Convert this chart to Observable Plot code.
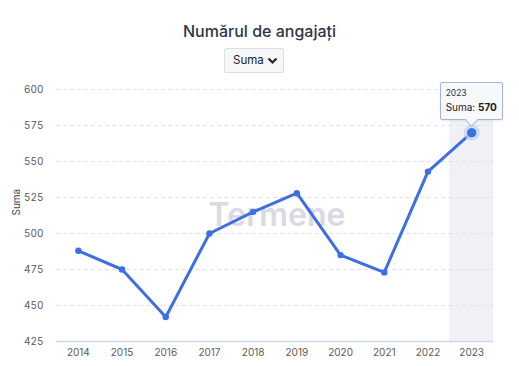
<!DOCTYPE html>
<html><head><meta charset="utf-8">
<script src="https://cdn.jsdelivr.net/npm/d3@7"></script>
<script src="https://cdn.jsdelivr.net/npm/@observablehq/plot@0.6"></script>
<style>
body{margin:0;background:#fff;font-family:Inter,"Noto Sans",sans-serif;}
#wrap{position:relative;width:519px;height:366px;overflow:hidden;}
#title{position:absolute;top:20px;left:0;width:519px;text-align:center;font-size:16px;font-weight:500;color:#2d3648;line-height:22px;}
#sel{position:absolute;left:224px;top:48px;width:58px;height:23px;border:1px solid #dadee6;background:#f6f7f9;border-radius:2px;font-size:11.5px;color:#222;line-height:23px;box-sizing:content-box;}
#sel span{position:absolute;left:8px;}
#sel svg{position:absolute;right:5px;top:8px;}
#chart{position:absolute;top:80px;left:0;}
#tip{position:absolute;background:#f6f8fc;border:1px solid #a3b4d6;border-radius:2px;padding:4px 5px 5px 5px;font-size:10px;color:#222;white-space:nowrap;box-shadow:0 1px 2px rgba(0,0,0,0.08);box-sizing:border-box;}
#tip .yr{font-size:8.5px;color:#333;line-height:13px;}
#tip .v{line-height:14px;}
#tipArrow{position:absolute;width:8px;height:8px;background:#f6f8fc;border-right:1px solid #a3b4d6;border-bottom:1px solid #a3b4d6;transform:rotate(45deg);}
</style></head>
<body>
<div id="wrap">
  <div id="title">Numărul de angajați</div>
  <div id="sel"><span>Suma</span><svg width="11" height="8" viewBox="0 0 11 8"><path d="M1.5 1.5 L5.5 5.5 L9.5 1.5" fill="none" stroke="#222" stroke-width="2.2"/></svg></div>
  <div id="chart"></div>
</div>
<script>
const years = ["2014","2015","2016","2017","2018","2019","2020","2021","2022","2023"];
const values = [488, 475, 442, 500, 515, 528, 485, 473, 543, 570];
const yTicks = [425, 450, 475, 500, 525, 550, 575, 600];
const highlightYear = ["2023"];
const seriesName = "Suma";

const data = years.map((y, i) => ({year: y, value: values[i]}));
const hl = data.filter(d => highlightYear.includes(d.year));
const blue = "#3b6fe3";

const chart = Plot.plot({
  width: 519,
  height: 286,
  marginTop: 9,
  marginBottom: 25,
  marginLeft: 56,
  marginRight: 26,
  style: {fontFamily: "Inter, 'Noto Sans', sans-serif", fontSize: "10px", color: "#5a5a5a", background: "transparent"},
  x: {type: "band", domain: years, padding: 0, round: false, label: null, tickSize: 0, tickPadding: 7},
  y: {domain: [425, 600], ticks: yTicks, label: null, tickSize: 0, tickPadding: 13},
  marks: [
    Plot.barY(hl, {x: "year", y1: 425, y2: 600, fill: "#eff1f6"}),
    Plot.ruleY(yTicks.filter(t => t > 425), {stroke: "#dfe2e8", strokeDasharray: "4,3"}),
    Plot.ruleY([425], {stroke: "#cfd7e6", strokeWidth: 1.5}),
    Plot.text(["Termene"], {frameAnchor: "middle", text: d => d, fontSize: 32, fontWeight: 600, fill: "#dadae3", dx: 2}),
    Plot.text([seriesName], {frameAnchor: "left", text: d => d, dx: -40, rotate: -90, fontSize: 10, fill: "#444"}),
    Plot.line(data, {x: "year", y: "value", stroke: blue, strokeWidth: 3, strokeLinejoin: "round"}),
    Plot.dot(data, {x: "year", y: "value", r: 3.2, fill: blue}),
    Plot.dot(hl, {x: "year", y: "value", r: 8, fill: "#bfd0f5", fillOpacity: 0.7}),
    Plot.dot(hl, {x: "year", y: "value", r: 5, fill: blue, stroke: "#fff", strokeWidth: 0.5})
  ]
});
document.getElementById("chart").appendChild(chart);

// tooltip anchored on the highlighted point via the chart's scales
const xs = chart.scale("x"), ys = chart.scale("y");
const h = hl[0];
const px = xs.apply(h.year) + xs.bandwidth / 2;
const py = ys.apply(h.value) + 80;
const tip = document.createElement("div");
tip.id = "tip";
tip.innerHTML = `<div class="yr">${h.year}</div><div class="v">${seriesName}: <b>${h.value}</b></div>`;
document.getElementById("wrap").appendChild(tip);
const w = tip.offsetWidth, th = tip.offsetHeight;
tip.style.left = (px - w / 2) + "px";
tip.style.top = (py - 12 - th) + "px";
const arr = document.createElement("div");
arr.id = "tipArrow";
arr.style.left = (px - 4.5) + "px";
arr.style.top = (py - 12 - 4.5) + "px";
document.getElementById("wrap").appendChild(arr);
</script>
</body></html>
